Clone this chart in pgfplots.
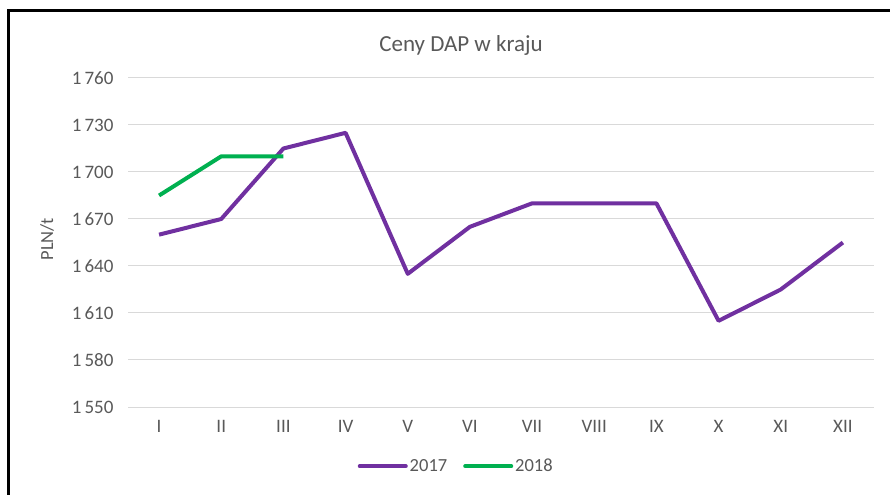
\documentclass[border=0pt]{standalone}
\usepackage{pgfplots}
\pgfplotsset{compat=1.18}
\usepackage{fontspec}
\setmainfont{Carlito}
\definecolor{txt}{HTML}{595959}
\definecolor{grd}{HTML}{D9D9D9}
\definecolor{p17}{HTML}{7030A0}
\definecolor{g18}{HTML}{00B050}
\begin{document}
\begin{tikzpicture}
\useasboundingbox (0,0) rectangle (890bp,495bp);
\fill[white] (0,0) rectangle (890bp,495bp);
\draw[line width=3bp,black] (8bp,0) -- (8bp,484bp) -- (890bp,484bp);
\node[text=txt,font=\fontsize{23bp}{26bp}\selectfont] at (461bp,450bp) {Ceny DAP w kraju};
\begin{axis}[
  at={(128bp,88bp)}, anchor=south west,
  scale only axis, width=746bp, height=329bp,
  xmin=0.5, xmax=12.5, ymin=1550, ymax=1760,
  xtick={1,...,12},
  xticklabels={I,II,III,IV,V,VI,VII,VIII,IX,X,XI,XII},
  ytick={1550,1580,1610,1640,1670,1700,1730,1760},
  yticklabels={1\kern3bp 550,1\kern3bp 580,1\kern3bp 610,1\kern3bp 640,1\kern3bp 670,1\kern3bp 700,1\kern3bp 730,1\kern3bp 760},
  ymajorgrids, major grid style={grd, line width=1bp},
  axis line style={draw=none},
  major tick length=0pt,
  tick label style={text=txt, font=\fontsize{19bp}{22bp}\selectfont},
  yticklabel style={xshift=-11bp},
  xticklabel style={yshift=-10bp},
  ylabel={PLN/t},
  ylabel style={text=txt, font=\fontsize{18.5bp}{22bp}\selectfont, at={(axis description cs:-0.1086,0.51)}, anchor=center},
  legend columns=2,
  legend style={draw=none, fill=none, at={(axis description cs:0.44,-0.18)}, anchor=center,
    font=\fontsize{18.5bp}{22bp}\selectfont, text=txt,
    /tikz/every even column/.append style={column sep=14bp}},
  legend image code/.code={\draw[#1, line width=4bp, line cap=round] (0bp,0bp) -- (46bp,0bp);},
]
\addplot[p17, line width=4bp, line join=round] coordinates {
(1,1660) (2,1670) (3,1715) (4,1725) (5,1635) (6,1665) (7,1680) (8,1680) (9,1680) (10,1605) (11,1625) (12,1655)};
\addlegendentry{2017}
\addplot[g18, line width=4bp, line join=round] coordinates {
(1,1685) (2,1710) (3,1710)};
\addlegendentry{2018}
\end{axis}
\end{tikzpicture}
\end{document}
